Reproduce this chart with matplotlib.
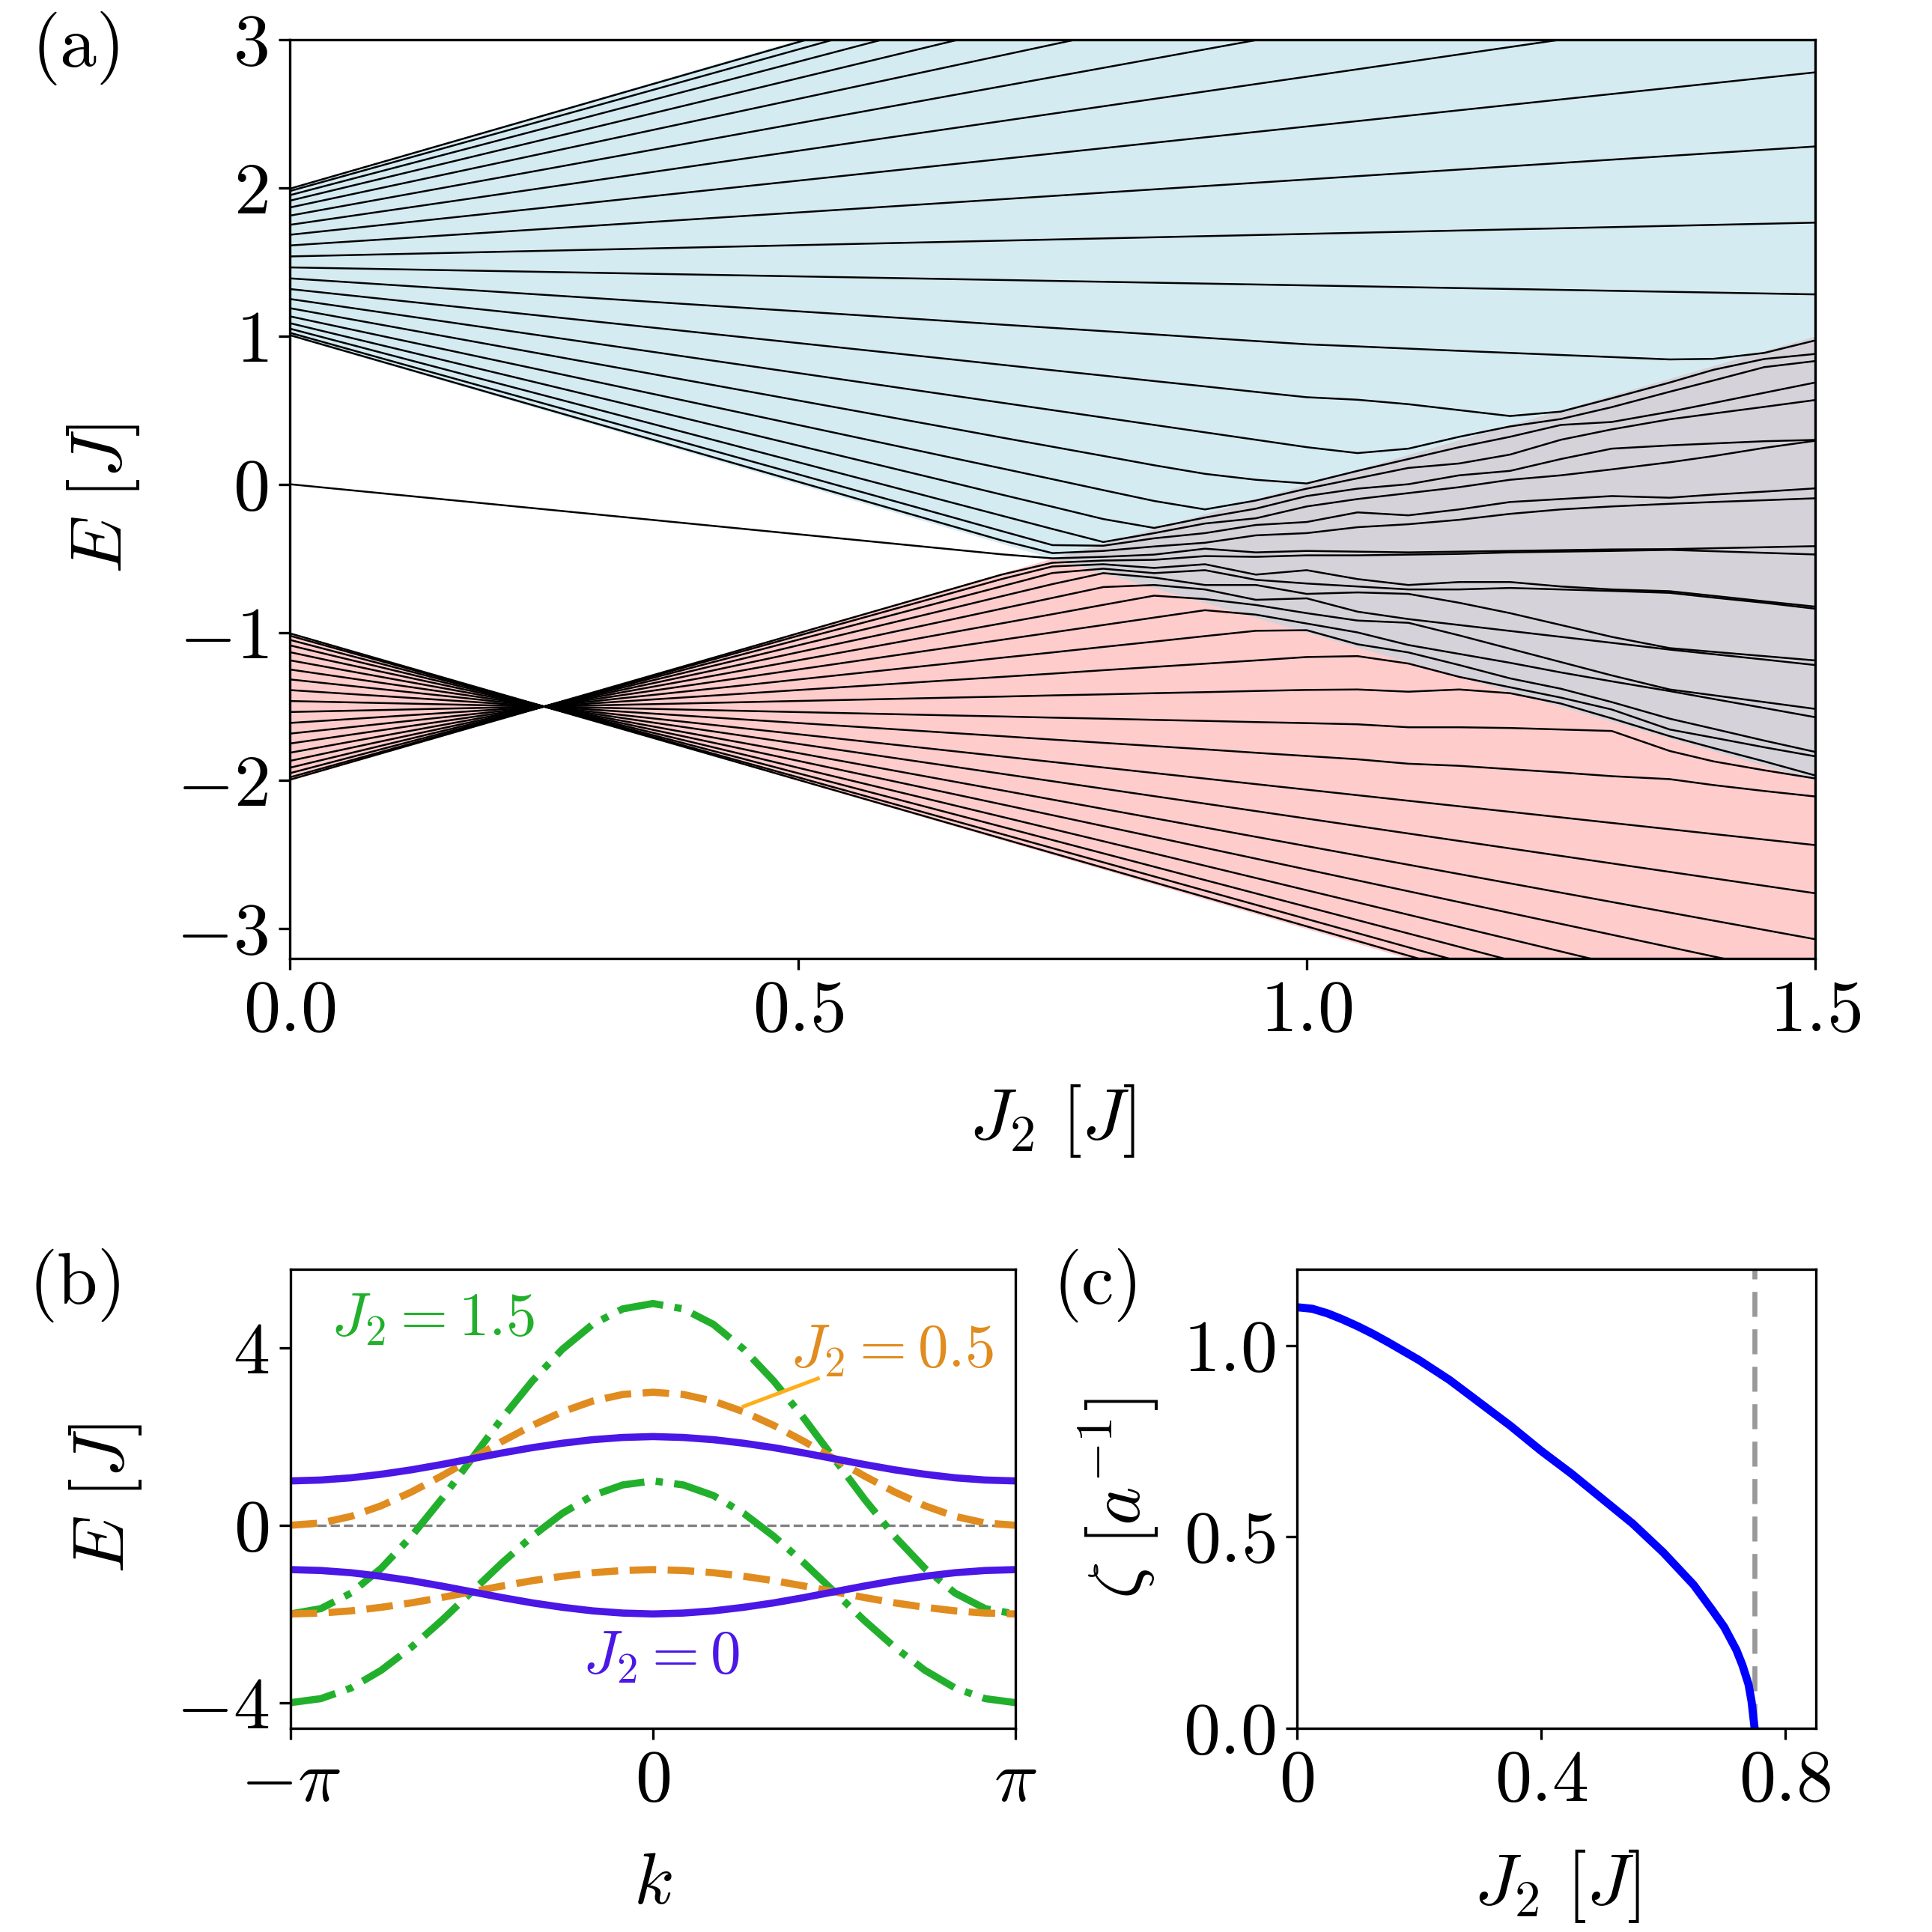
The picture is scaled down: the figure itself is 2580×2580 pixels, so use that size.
import numpy as np
import matplotlib
matplotlib.use("Agg")
import matplotlib.pyplot as plt

# ---------------- data: panel (a) ----------------
# straight upper-band levels (leave the window at the top): value at J2=0 and at J2=1.5
upper_E0 = [1.994, 1.978, 1.950, 1.913, 1.867, 1.812, 1.750, 1.683, 1.611, 1.537, 1.463]
upper_E15 = [4.961, 4.845, 4.653, 4.392, 4.066, 3.682, 3.250, 2.779, 2.279, 1.765, 1.281]
# straight lower-band levels (leave the window at the bottom)
lower_E0 = [-1.317, -1.250, -1.188, -1.133, -1.087, -1.050, -1.022, -1.006]
lower_E15 = [-2.435, -2.760, -3.070, -3.333, -3.566, -3.752, -3.889, -3.972]
cross_J, cross_E = 0.25, -1.5          # common crossing point of the lower band
# levels that meet in the overlap region: value at J2=0 (9 upper, edge state, 12 lower)
group_E0 = [1.389, 1.317, 1.250, 1.188, 1.133, 1.087, 1.050, 1.022, 1.006,
            0.0,
            -1.994, -1.978, -1.950, -1.913, -1.867, -1.812, -1.750, -1.683,
            -1.611, -1.537, -1.463, -1.389]
group_is_lower = [False] * 10 + [True] * 12
# sorted levels (top to bottom) read in columns across the overlap region
J2_cols = [0.65, 0.70, 0.75, 0.80, 0.85, 0.90, 0.95, 1.00, 1.05, 1.10,
           1.15, 1.20, 1.25, 1.30, 1.357, 1.40, 1.45, 1.50]
E_cols = [
    [1.100, 0.843, 0.600, 0.378, 0.180, 0.013, -0.122, -0.220, -0.280, -0.439, -0.709, -0.736, -0.779, -0.839, -0.914, -1.001, -1.100, -1.208, -1.322, -1.440, -1.560, -1.678],
    [1.077, 0.806, 0.550, 0.315, 0.107, -0.070, -0.212, -0.316, -0.379, -0.473, -0.610, -0.640, -0.689, -0.756, -0.840, -0.939, -1.050, -1.171, -1.300, -1.433, -1.567, -1.700],
    [1.055, 0.769, 0.500, 0.253, 0.034, -0.152, -0.302, -0.411, -0.465, -0.500, -0.530, -0.555, -0.599, -0.674, -0.767, -0.877, -1.000, -1.135, -1.278, -1.425, -1.575, -1.723],
    [1.033, 0.733, 0.450, 0.191, -0.040, -0.235, -0.390, -0.415, -0.450, -0.490, -0.515, -0.540, -0.570, -0.600, -0.694, -0.814, -0.950, -1.098, -1.255, -1.418, -1.582, -1.745],
    [1.011, 0.696, 0.400, 0.128, -0.113, -0.295, -0.330, -0.365, -0.420, -0.475, -0.510, -0.565, -0.600, -0.630, -0.680, -0.752, -0.900, -1.062, -1.233, -1.410, -1.590, -1.767],
    [0.988, 0.660, 0.350, 0.070, -0.170, -0.225, -0.265, -0.330, -0.395, -0.435, -0.485, -0.540, -0.580, -0.680, -0.710, -0.775, -0.850, -1.025, -1.211, -1.403, -1.597, -1.789],
    [0.966, 0.623, 0.300, 0.030, -0.110, -0.165, -0.230, -0.275, -0.345, -0.460, -0.490, -0.610, -0.645, -0.680, -0.780, -0.815, -0.880, -0.989, -1.189, -1.395, -1.605, -1.812],
    [0.944, 0.587, 0.250, 0.005, -0.030, -0.080, -0.150, -0.255, -0.330, -0.450, -0.480, -0.580, -0.670, -0.740, -0.770, -0.870, -0.940, -0.985, -1.166, -1.388, -1.612, -1.834],
    [0.930, 0.570, 0.210, 0.090, 0.040, -0.030, -0.100, -0.190, -0.290, -0.455, -0.480, -0.640, -0.690, -0.730, -0.860, -0.920, -1.000, -1.080, -1.160, -1.385, -1.620, -1.856],
    [0.915, 0.540, 0.240, 0.170, 0.110, 0.000, -0.060, -0.210, -0.270, -0.460, -0.475, -0.680, -0.710, -0.740, -0.910, -0.935, -1.085, -1.135, -1.210, -1.400, -1.640, -1.886],
    [0.900, 0.500, 0.320, 0.250, 0.140, 0.060, -0.020, -0.170, -0.240, -0.455, -0.470, -0.660, -0.710, -0.800, -0.950, -1.020, -1.145, -1.220, -1.300, -1.385, -1.640, -1.900],
    [0.886, 0.460, 0.390, 0.320, 0.200, 0.090, 0.030, -0.120, -0.200, -0.450, -0.460, -0.660, -0.700, -0.870, -0.990, -1.110, -1.205, -1.310, -1.370, -1.410, -1.645, -1.923],
    [0.872, 0.490, 0.440, 0.400, 0.300, 0.170, 0.060, -0.100, -0.170, -0.445, -0.455, -0.690, -0.710, -0.950, -1.030, -1.200, -1.270, -1.380, -1.440, -1.480, -1.655, -1.945],
    [0.858, 0.580, 0.520, 0.420, 0.370, 0.240, 0.100, -0.080, -0.150, -0.440, -0.450, -0.710, -0.720, -1.030, -1.070, -1.290, -1.330, -1.470, -1.520, -1.580, -1.665, -1.970],
    [0.842, 0.686, 0.624, 0.489, 0.438, 0.262, 0.148, -0.091, -0.132, -0.438, -0.443, -0.722, -0.733, -1.106, -1.116, -1.385, -1.396, -1.582, -1.655, -1.700, -1.800, -1.990],
    [0.846, 0.772, 0.700, 0.548, 0.477, 0.275, 0.190, -0.070, -0.120, -0.432, -0.452, -0.753, -0.765, -1.131, -1.147, -1.424, -1.449, -1.650, -1.710, -1.780, -1.870, -2.030],
    [0.886, 0.845, 0.790, 0.617, 0.522, 0.290, 0.245, -0.050, -0.108, -0.425, -0.463, -0.790, -0.800, -1.160, -1.183, -1.470, -1.510, -1.730, -1.775, -1.870, -1.930, -2.070],
    [0.970, 0.879, 0.831, 0.686, 0.568, 0.299, 0.293, -0.028, -0.095, -0.418, -0.474, -0.826, -0.840, -1.189, -1.220, -1.516, -1.572, -1.806, -1.836, -1.965, -1.985, -2.107],
]
# shaded band regions
pink_J = [0.0, 0.25, 1.5]
pink_lo = [-2.0, -1.5, -4.0]
pink_hi = [-1.0, -1.5, 1.0]
blue_J = [0.0, 1.5]
blue_lo = [1.0, -2.0]
blue_hi = [2.0, 5.0]

# ---------------- data: panel (b) ----------------
k_half = np.linspace(0, np.pi, 13)            # k = 0 ... pi (bands are even in k)
E_up_0 = [2.00, 1.98, 1.93, 1.85, 1.75, 1.63, 1.50, 1.37, 1.25, 1.15, 1.07, 1.02, 1.00]
E_lo_0 = [-2.00, -1.98, -1.93, -1.85, -1.75, -1.63, -1.50, -1.37, -1.25, -1.15, -1.07, -1.02, -1.00]
E_up_05 = [3.00, 2.95, 2.80, 2.56, 2.25, 1.89, 1.50, 1.11, 0.75, 0.44, 0.20, 0.05, 0.00]
E_lo_05 = [-1.00, -1.02, -1.07, -1.15, -1.25, -1.37, -1.50, -1.63, -1.75, -1.85, -1.93, -1.98, -2.00]
E_up_15 = [5.00, 4.88, 4.53, 3.97, 3.25, 2.41, 1.50, 0.59, -0.25, -0.97, -1.53, -1.88, -2.00]
E_lo_15 = [1.00, 0.91, 0.67, 0.27, -0.25, -0.85, -1.50, -2.15, -2.75, -3.27, -3.67, -3.91, -4.00]

# ---------------- data: panel (c) ----------------
zeta_J2 = [0.0, 0.025, 0.05, 0.075, 0.10, 0.125, 0.15, 0.20, 0.25, 0.30, 0.35, 0.40,
           0.45, 0.50, 0.55, 0.60, 0.65, 0.68, 0.70, 0.72, 0.73, 0.74, 0.745, 0.75]
zeta = [1.100, 1.096, 1.084, 1.068, 1.050, 1.030, 1.008, 0.962, 0.910, 0.850, 0.790,
        0.725, 0.665, 0.600, 0.535, 0.460, 0.375, 0.310, 0.265, 0.205, 0.165, 0.115,
        0.070, 0.0]
J2_crit = 0.75

# ---------------- style ----------------
plt.rcParams.update({
    "font.family": "serif",
    "font.serif": ["cmr10"],
    "mathtext.fontset": "cm",
    "axes.formatter.use_mathtext": True,
    "axes.linewidth": 0.8,
    "xtick.major.width": 0.8, "ytick.major.width": 0.8,
    "xtick.major.size": 3.5, "ytick.major.size": 3.5,
})
FS = 23.5
C_BLUE = "#4a17e6"
C_ORANGE = "#e08c1f"
C_GREEN = "#22b02c"

fig = plt.figure(figsize=(8.6, 8.6), dpi=300)

# ---------------- panel (a) ----------------
ax = fig.add_axes([0.1500, 0.5039, 0.7895, 0.4756])
ax.fill_between(pink_J, pink_lo, pink_hi, color="red", alpha=0.2, lw=0)
ax.fill_between(blue_J, blue_lo, blue_hi, color="lightblue", alpha=0.5, lw=0)
LW = 0.6
for e0, e1 in zip(upper_E0, upper_E15):
    ax.plot([0.0, 1.5], [e0, e1], color="k", lw=LW)
for e0, e1 in zip(lower_E0, lower_E15):
    ax.plot([0.0, cross_J, 1.5], [e0, cross_E, e1], color="k", lw=LW)
cols = np.array(E_cols)
for r, (e0, low) in enumerate(zip(group_E0, group_is_lower)):
    jp = [0.0, cross_J] if low else [0.0]
    ep = [e0, cross_E] if low else [e0]
    ax.plot(jp + J2_cols, ep + list(cols[:, r]), color="k", lw=LW)
ax.set_xlim(0, 1.5)
ax.set_ylim(-3.2, 3.0)
ax.set_xticks([0.0, 0.5, 1.0, 1.5])
ax.set_yticks([-3, -2, -1, 0, 1, 2, 3])
ax.tick_params(labelsize=FS)
ax.set_xlabel(r"$J_2\ [J]$", fontsize=FS)
ax.set_ylabel(r"$E\ [J]$", fontsize=FS)
ax.xaxis.set_label_coords(0.5, -0.135)
ax.yaxis.set_label_coords(-0.097, 0.5)

# ---------------- panel (b) ----------------
bx = fig.add_axes([0.1504, 0.1054, 0.3752, 0.2378])
kk = np.r_[-k_half[:0:-1], k_half]
sym = lambda v: np.r_[np.array(v)[:0:-1], np.array(v)]
bx.axhline(0, color="gray", lw=0.8, ls="--", zorder=1)
for v in (E_up_15, E_lo_15):
    bx.plot(kk, sym(v), color=C_GREEN, lw=2.3, ls="-.")
for v in (E_up_05, E_lo_05):
    bx.plot(kk, sym(v), color=C_ORANGE, lw=2.3, ls="--")
for v in (E_up_0, E_lo_0):
    bx.plot(kk, sym(v), color=C_BLUE, lw=2.3, ls="-")
bx.text(-2.79, 4.29, r"$J_2=1.5$", color=C_GREEN, fontsize=19.5)
bx.text(1.19, 3.58, r"$J_2=0.5$", color=C_ORANGE, fontsize=19.5)
bx.text(-0.61, -3.33, r"$J_2=0$", color=C_BLUE, fontsize=19.5)
bx.plot([0.785, 1.43], [2.68, 3.31], color="#ffae1a", lw=1.2)
bx.set_xlim(-np.pi, np.pi)
bx.set_ylim(-4.58, 5.78)
bx.set_xticks([-np.pi, 0, np.pi])
bx.set_xticklabels([r"$-\pi$", r"$0$", r"$\pi$"])
bx.set_yticks([-4, 0, 4])
bx.tick_params(labelsize=FS)
bx.set_xlabel(r"$k$", fontsize=FS)
bx.set_ylabel(r"$E\ [J]$", fontsize=FS)
bx.xaxis.set_label_coords(0.5, -0.27)
bx.yaxis.set_label_coords(-0.2025, 0.5)

# ---------------- panel (c) ----------------
cx = fig.add_axes([0.6713, 0.1054, 0.2688, 0.2378])
cx.axvline(J2_crit, color="#999999", lw=1.6, ls=(0, (5, 2.5)))
cx.plot(zeta_J2, zeta, color="blue", lw=2.6)
cx.set_xlim(0, 0.851)
cx.set_ylim(0, 1.2)
cx.set_xticks([0, 0.4, 0.8])
cx.set_xticklabels([r"$0$", r"$0.4$", r"$0.8$"])
cx.set_yticks([0.0, 0.5, 1.0])
cx.tick_params(labelsize=FS)
cx.set_xlabel(r"$J_2\ [J]$", fontsize=FS)
cx.set_ylabel(r"$\zeta\ [a^{-1}]$", fontsize=FS)
cx.xaxis.set_label_coords(0.5, -0.26)
cx.yaxis.set_label_coords(-0.262, 0.5)

# ---------------- panel letters ----------------
fig.text(0.0163, 0.9942, "(a)", fontsize=FS, va="top", ha="left")
fig.text(0.0151, 0.3540, "(b)", fontsize=FS, va="top", ha="left")
fig.text(0.5453, 0.3540, "(c)", fontsize=FS, va="top", ha="left")

fig.savefig("out.png", dpi=300)
